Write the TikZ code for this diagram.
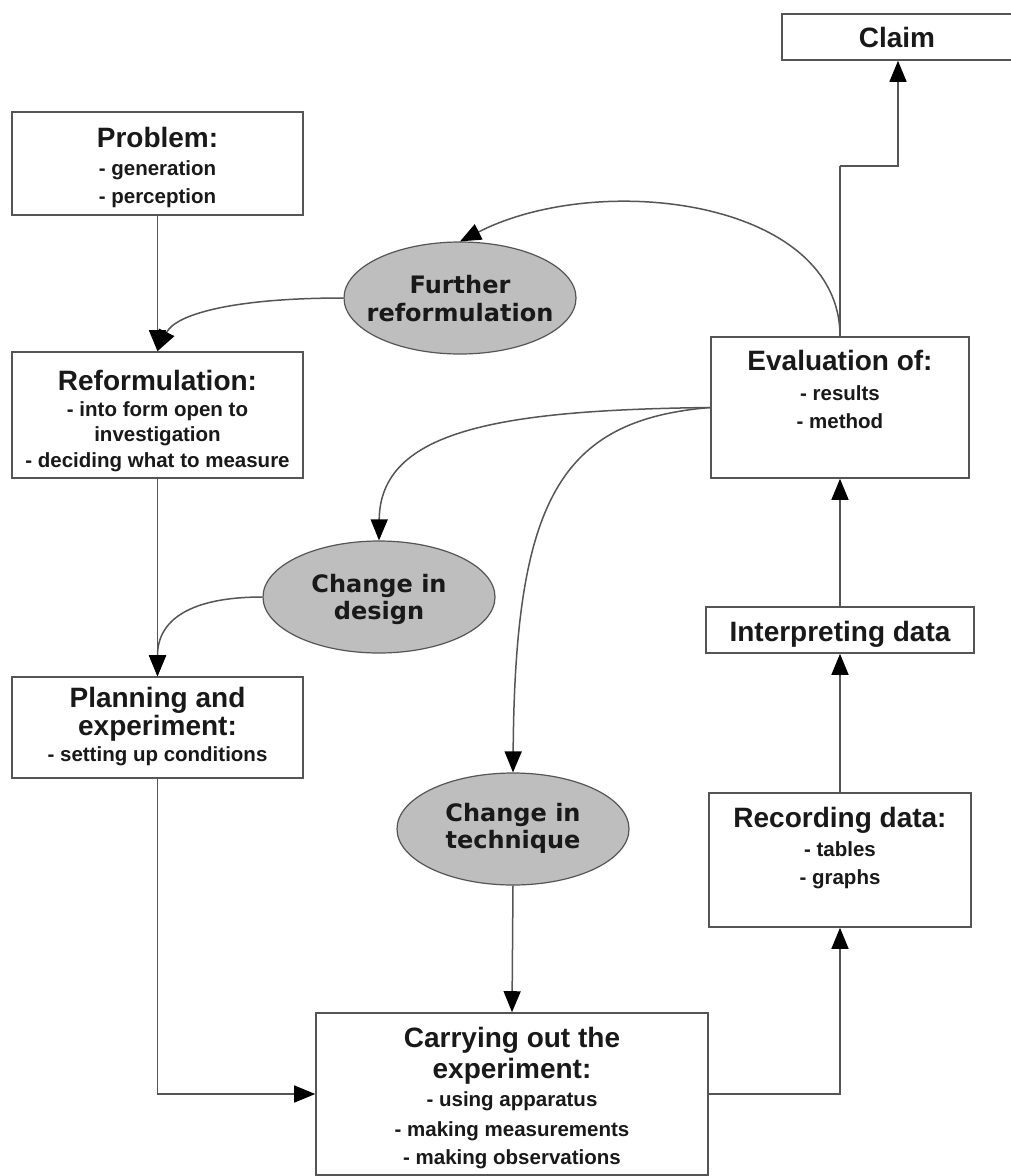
\documentclass[tikz,border=0pt]{standalone}
\usepackage{fontspec}
\setmainfont{Liberation Sans}
\newfontfamily\ellfont{DejaVu Sans}
\usetikzlibrary{arrows.meta,shapes.geometric}
\definecolor{edgec}{HTML}{555555}
\definecolor{ellfill}{HTML}{BEBEBE}
\newcommand\titlef{\fontsize{28}{30}\selectfont\bfseries}
\newcommand\subf{\fontsize{20.5}{24}\selectfont\bfseries}
\newcommand\ellf{\ellfont\fontsize{24}{28}\selectfont\bfseries}
\begin{document}
\begin{tikzpicture}[x=1pt,y=-1pt,
  box/.style={draw=edgec, line width=1.6pt, fill=white, rectangle, inner sep=0pt},
  oval/.style={draw=edgec, line width=1.2pt, fill=ellfill, ellipse, inner sep=0pt,
               minimum width=232pt, minimum height=112pt},
  tl/.style={anchor=base, font=\titlef, inner sep=0pt, text=black!90},
  sl/.style={anchor=base, font=\subf, inner sep=0pt, text=black!90},
  el/.style={anchor=base, font=\ellf, inner sep=0pt, text=black!90},
  conn/.style={draw=edgec, line width=1.5pt,
               -{Triangle[length=21pt,width=17pt,color=black]}},
  plain/.style={draw=edgec, line width=1.5pt}]
\fill[white] (0,0) rectangle (1010,1176);
\useasboundingbox (0,0) rectangle (1010,1176);

% boxes
\node[box, minimum width=291pt, minimum height=103pt] (prob) at (157.5,163.5) {};
\node[box, minimum width=291pt, minimum height=126pt] (ref) at (157.5,415) {};
\node[box, minimum width=291pt, minimum height=101pt] (plan) at (157.5,727.5) {};
\node[box, minimum width=392pt, minimum height=162pt] (car) at (512,1094) {};
\node[box, minimum width=258pt, minimum height=141pt] (eval) at (840,407.5) {};
\node[box, minimum width=268pt, minimum height=46pt] (intp) at (840,630) {};
\node[box, minimum width=262pt, minimum height=134pt] (rec) at (840,860) {};
\node[box, minimum width=232pt, minimum height=46pt] (claim) at (898,37) {};

% ellipses
\node[oval] (fur) at (460,298) {};
\node[oval] (des) at (379,597) {};
\node[oval] (tech) at (513,829) {};

% texts
\node[tl] (probT) at (157.5,147) {Problem:};
\node[sl] (probA) at (157.5,175) {- generation};
\node[sl] (probB) at (157.5,203) {- perception};

\node[tl] (refT) at (157.5,390) {Reformulation:};
\node[sl] (refA) at (157.5,416) {- into form open to};
\node[sl] (refB) at (157.5,441) {investigation};
\node[sl] (refC) at (157.5,467) {- deciding what to measure};

\node[tl] (planT) at (157.5,707) {Planning and};
\node[tl] (planU) at (157.5,735) {experiment:};
\node[sl] (planA) at (157.5,761) {- setting up conditions};

\node[tl] (carT) at (512,1047) {Carrying out the};
\node[tl] (carU) at (512,1078) {experiment:};
\node[sl] (carA) at (512,1106) {- using apparatus};
\node[sl] (carB) at (512,1136) {- making measurements};
\node[sl] (carC) at (512,1164) {- making observations};

\node[tl] (evalT) at (840,370) {Evaluation of:};
\node[sl] (evalA) at (840,400) {- results};
\node[sl] (evalB) at (840,428) {- method};

\node[tl] (intpT) at (840,641) {Interpreting data};

\node[tl] (recT) at (840,827) {Recording data:};
\node[sl] (recA) at (840,856) {- tables};
\node[sl] (recB) at (840,884) {- graphs};

\node[tl] (claimT) at (897,47) {Claim};

\node[el] (furT) at (460,293) {Further};
\node[el] (furU) at (460,321) {reformulation};
\node[el] (desT) at (379,592) {Change in};
\node[el] (desU) at (379,619) {design};
\node[el] (techT) at (513,821) {Change in};
\node[el] (techU) at (513,848) {technique};

% connectors
\draw[conn] (prob.south) -- (ref.north);
\draw[conn] (ref.south) -- (plan.north);
\draw[conn] (fur.west) .. controls (230,298) and (175,315) .. (ref.north);
\draw[conn] (des.west) .. controls (190,597) and (157.5,620) .. (plan.north);
\draw[conn] (plan.south) |- (car.west);
\draw[conn] (tech.south) -- (car.north);
\draw[conn] (car.east) -| (rec.south);
\draw[conn] (rec.north) -- (intp.south);
\draw[conn] (intp.north) -- (eval.south);
\coordinate (cbend) at (840,166);
\draw[plain] (eval.north) -- (cbend);
\draw[conn] (cbend) -| (claim.south);
\draw[conn] (eval.north) .. controls (840,200) and (600,170) .. (fur.north);
\draw[conn] (eval.west) .. controls (500,410) and (380,430) .. (des.north);
\draw[conn] (eval.west) .. controls (560,420) and (515,500) .. (tech.north);
\end{tikzpicture}
\end{document}
